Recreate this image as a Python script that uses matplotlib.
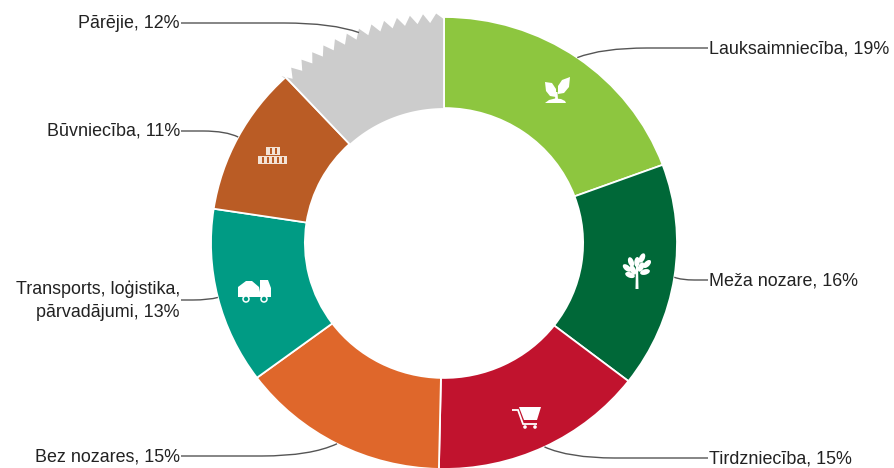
import numpy as np
import matplotlib
matplotlib.use("Agg")
import matplotlib.pyplot as plt
from matplotlib.patches import Polygon, Ellipse, Rectangle, Circle, PathPatch
from matplotlib.path import Path
from matplotlib.transforms import Affine2D

sectors = ["Lauksaimniecība, 19%", "Meža nozare, 16%", "Tirdzniecība, 15%", "Bez nozares, 15%",
           "Transports, loģistika,\npārvadājumi, 13%", "Būvniecība, 11%", "Pārējie, 12%"]
values = [19.4, 16.1, 14.9, 14.5, 12.6, 10.7, 11.9]
colors = ["#8DC63F", "#006838", "#C1132E", "#DF672B", "#009B84", "#BA5C25", "#CCCCCC"]
label_px = [(709, 48), (709, 280), (709, 458), (180, 456), (180, 300), (180, 131), (180, 23)]
flat_run = [70, 20, 70, 75, 25, 35, 75]

W, H = 895, 468
CX, CY, SX, SY = 444, 243, 233, 226
plt.rcParams["font.family"] = ["Liberation Sans", "DejaVu Sans"]
fig = plt.figure(figsize=(W / 100, H / 100), dpi=100)
ax = fig.add_axes([0, 0, 1, 1])
wedges, _ = ax.pie(values, colors=colors, startangle=90, counterclock=False, radius=1,
                   wedgeprops=dict(width=0.403, edgecolor="white", linewidth=1.3))
ax.set_aspect("auto")
ax.set_xlim(-CX / SX, (W - CX) / SX)
ax.set_ylim((CY - H) / SY, CY / SY)
ax.axis("off")
px = Affine2D().scale(1, -1).translate(0, H)

# torn outer edge of the last sector
last = wedges[-1]
last.set_visible(False)
t1, t2 = last.theta1, last.theta2
tips = 13
n = 2 * tips + 1
ang = np.linspace(t1 + 1.9, t2 + 0.6, n)
rad = np.where(np.arange(n) % 2 == 0, 1.016, 0.975)
outer = np.c_[rad * np.cos(np.radians(ang)), rad * np.sin(np.radians(ang))]
ang_in = np.linspace(t2, t1, 40)
inner = 0.597 * np.c_[np.cos(np.radians(ang_in)), np.sin(np.radians(ang_in))]
start = np.array([[np.cos(np.radians(t1)), np.sin(np.radians(t1))]]) * 0.99
end = np.array([[np.cos(np.radians(t2)), np.sin(np.radians(t2))]]) * 0.975
ax.add_patch(Polygon(np.vstack([start, outer, end, inner]), closed=True,
                     facecolor=colors[-1], edgecolor="none", zorder=1))
for t in (t1, t2):
    c, s = np.cos(np.radians(t)), np.sin(np.radians(t))
    ax.plot([0.597 * c, 1.02 * c], [0.597 * s, 1.02 * s], color="white", lw=1.3, zorder=1.5)

# labels and leader lines
for w, name, (lx, ly), run in zip(wedges, sectors, label_px, flat_run):
    mid = np.radians((w.theta1 + w.theta2) / 2)
    x0 = CX + SX * np.cos(mid)
    y0 = CY - SY * np.sin(mid)
    sign = 1 if lx > CX else -1
    ha = "left" if sign > 0 else "right"
    ex = lx - 1 * sign
    verts = [(x0, y0), (x0 + sign * run * 0.35, ly), (x0 + sign * run, ly), (ex, ly)]
    codes = [Path.MOVETO, Path.CURVE3, Path.CURVE3, Path.LINETO]
    fig.add_artist(PathPatch(Path(verts, codes), transform=px, fill=False,
                             edgecolor="#555555", linewidth=1.0))
    fig.text(lx, ly + 0.5, name, transform=px, ha=ha, va="center", fontsize=12.9, color="#222222",
             linespacing=1.39)

WHITE = "white"
def add(p):
    p.set_transform(px)
    fig.add_artist(p)

# sprout
add(Polygon([(545, 82), (552, 83), (556, 89), (556, 97), (550, 96), (546, 91)], fc=WHITE, ec="none"))
add(Polygon([(570, 77), (569, 87), (564, 93), (558, 94), (558, 86), (562, 80)], fc=WHITE, ec="none"))
add(Polygon([(555.5, 92), (557.5, 92), (558, 100), (555, 100)], fc=WHITE, ec="none"))
add(Polygon([(545, 103), (549, 100), (555, 98.5), (561, 99), (565, 101), (566, 103)], fc=WHITE, ec="none"))
# tree
add(Polygon([(636, 262), (638, 262), (638.5, 289), (635.5, 289)], fc=WHITE, ec="none"))
for ex_, ey_, a in [(631, 262, -20), (637, 262, 5), (642, 258, 25), (627, 268, -50), (647, 264, 45),
                    (630, 275, -70), (645, 272, 75), (641, 267, 25), (633, 270, -25)]:
    add(Ellipse((ex_, ey_), 5.5, 10, angle=a, fc=WHITE, ec="none"))
# cart
add(Polygon([(519, 407), (541, 407), (537, 420), (524, 420)], fc=WHITE, ec="none"))
add(PathPatch(Path([(512, 410), (518, 410), (523, 424), (537, 424)]), transform=px,
              fill=False, edgecolor=WHITE, linewidth=1.3))
add(Circle((525, 427), 1.8, fc=WHITE, ec="none"))
add(Circle((535, 427), 1.8, fc=WHITE, ec="none"))
# truck
add(Polygon([(238, 287), (246, 281), (252, 281), (259, 287), (261, 297), (238, 297)], fc=WHITE, ec="none"))
add(Polygon([(260, 280), (268, 280), (271, 288), (271, 297), (260, 297)], fc=WHITE, ec="none"))
for cx_ in (246, 264):
    add(Circle((cx_, 299), 3, fc=colors[4], ec=WHITE, lw=1.1))
# bricks
for bx, by, bw in [(258, 155.5, 29), (266, 146.5, 14)]:
    add(Rectangle((bx, by), bw, 8.5, fc="#F3E3D6", ec="none"))
    for k in np.arange(bx + 4, bx + bw - 1, 5):
        add(Rectangle((k, by + 1.5), 2, 5.5, fc=colors[5], ec="none"))

fig.savefig("out.png", dpi=100, facecolor="white")
